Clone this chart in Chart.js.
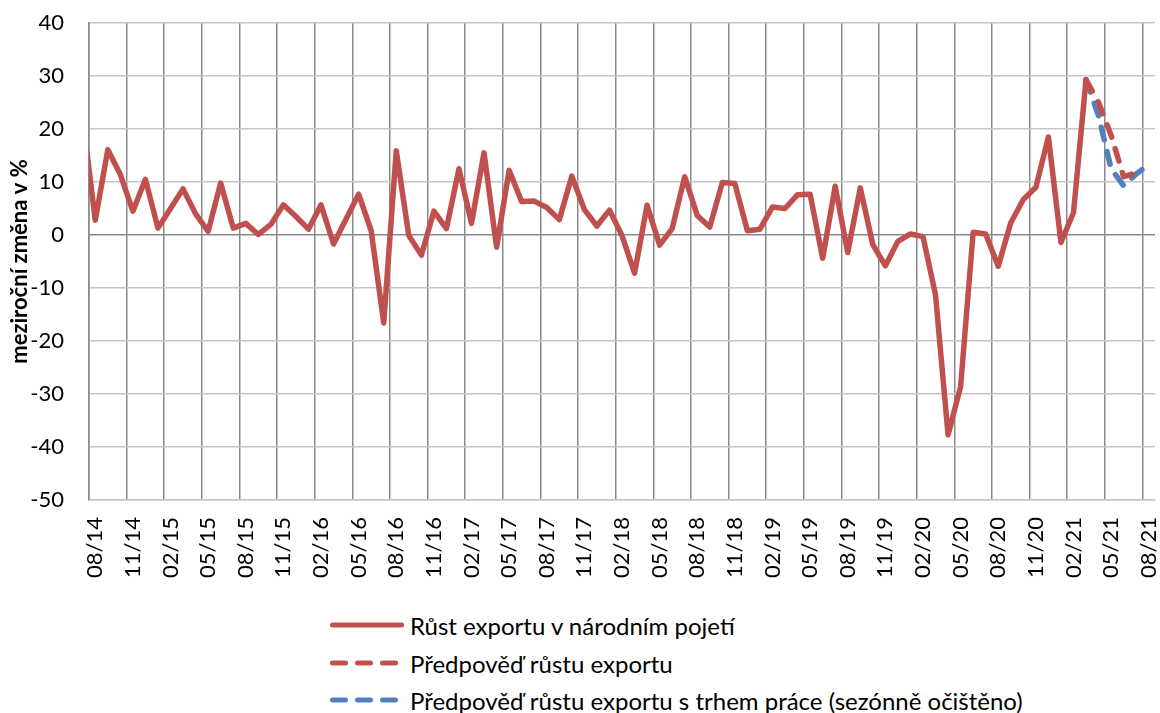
<!DOCTYPE html>
<html lang="cs">
<head>
<meta charset="utf-8">
<title>Růst exportu</title>
<script src="https://cdn.jsdelivr.net/npm/chart.js@4"></script>
<style>
    body { margin: 0; background: #fff; font-family: Lato, "Open Sans", sans-serif; }
    #wrap { position: relative; width: 1160px; height: 713px; }
    #box { position: absolute; left: 0; top: 0; width: 1160px; height: 600px; }
    .leg { position: absolute; left: 330px; height: 30px; display: flex; align-items: center; font-size: 24px; color: #000; white-space: nowrap; }
    .leg svg { margin-right: 6px; }
</style>
</head>
<body>
<div id="wrap">
    <div id="box"><canvas id="exportChart"></canvas></div>
    <div id="legend"></div>
</div>
<script>
// months 07/14 .. 08/21 (07/14 sits just outside the visible range)
const months = [
    "07/14", "08/14", "09/14", "10/14", "11/14", "12/14",
    "01/15", "02/15", "03/15", "04/15", "05/15", "06/15", "07/15", "08/15", "09/15", "10/15", "11/15", "12/15",
    "01/16", "02/16", "03/16", "04/16", "05/16", "06/16", "07/16", "08/16", "09/16", "10/16", "11/16", "12/16",
    "01/17", "02/17", "03/17", "04/17", "05/17", "06/17", "07/17", "08/17", "09/17", "10/17", "11/17", "12/17",
    "01/18", "02/18", "03/18", "04/18", "05/18", "06/18", "07/18", "08/18", "09/18", "10/18", "11/18", "12/18",
    "01/19", "02/19", "03/19", "04/19", "05/19", "06/19", "07/19", "08/19", "09/19", "10/19", "11/19", "12/19",
    "01/20", "02/20", "03/20", "04/20", "05/20", "06/20", "07/20", "08/20", "09/20", "10/20", "11/20", "12/20",
    "01/21", "02/21", "03/21", "04/21", "05/21", "06/21", "07/21", "08/21"
];

// y/y export growth, 07/14 .. 03/21
const exportGrowth = [
    22.0,
    2.8, 16.1, 11.4, 4.5, 10.5,
    1.3, 5.0, 8.7, 4.0, 0.7, 9.8, 1.3, 2.2, 0.1, 2.0, 5.7, 3.5,
    1.1, 5.7, -1.7, 3.0, 7.7, 0.8, -16.6, 15.9, -0.1, -3.8, 4.5, 1.2,
    12.5, 2.2, 15.5, -2.3, 12.2, 6.3, 6.4, 5.2, 2.9, 11.1, 4.8, 1.7,
    4.7, -0.1, -7.2, 5.6, -1.9, 1.2, 11.0, 3.7, 1.5, 9.9, 9.7, 0.8,
    1.1, 5.3, 5.0, 7.6, 7.7, -4.4, 9.2, -3.3, 8.9, -1.8, -5.8, -1.2,
    0.2, -0.3, -11.3, -37.7, -28.6, 0.5, 0.2, -5.9, 2.3, 6.7, 9.0, 18.5,
    -1.4, 4.2, 29.3
];

// forecasts starting at 03/21
const forecastStart = "03/21";
const forecast = [29.3, 25.0, 18.8, 11.0, 11.7];
const forecastLabour = [29.3, 22.5, 12.5, 9.3, 11.5, 13.3];

const yTicks = { min: -50, max: 40, step: 10 };

const RED = "#c0504d";
const BLUE = "#4f81bd";
const FONT = "Lato, 'Open Sans', sans-serif";

function padFrom(start, values) {
    const out = months.map(() => null);
    const i0 = months.indexOf(start);
    values.forEach((v, i) => { out[i0 + i] = v; });
    return out;
}

const seriesDefs = [
    { label: "Růst exportu v národním pojetí", data: exportGrowth, color: RED, dash: [] },
    { label: "Předpověď růstu exportu", data: padFrom(forecastStart, forecast), color: RED, dash: [13, 12] },
    { label: "Předpověď růstu exportu s trhem práce (sezónně očištěno)", data: padFrom(forecastStart, forecastLabour), color: BLUE, dash: [13, 12] }
];

function buildChart() {
    const canvas = document.getElementById("exportChart");
    new Chart(canvas, {
        type: "line",
        data: {
            labels: months,
            datasets: seriesDefs.map((s) => ({
                label: s.label,
                data: s.data,
                borderColor: s.color,
                backgroundColor: s.color,
                borderWidth: 5.5,
                borderDash: s.dash,
                borderCapStyle: "round",
                borderJoinStyle: "round",
                pointRadius: 0,
                tension: 0,
                fill: false,
                clip: { left: 0, right: 0, top: 6, bottom: 6 }
            }))
        },
        options: {
            responsive: true,
            maintainAspectRatio: false,
            animation: false,
            events: [],
            layout: { padding: { top: 23, right: 5, left: 0, bottom: 0 } },
            plugins: { legend: { display: false }, tooltip: { enabled: false } },
            scales: {
                x: {
                    type: "category",
                    min: "08/14",
                    offset: true,
                    grid: {
                        offset: true,
                        drawTicks: false,
                        lineWidth: 1.5,
                        color: (ctx) => (ctx.index % 3 === 0 ? "#898989" : "rgba(0,0,0,0)")
                    },
                    border: { color: "#c6c6c6", width: 1.5 },
                    ticks: {
                        autoSkip: false,
                        minRotation: 90,
                        maxRotation: 90,
                        padding: 17,
                        color: "#000",
                        font: { family: FONT, size: 22 },
                        callback: function (value, index) {
                            return index % 3 === 0 ? this.getLabelForValue(value) : "";
                        }
                    },
                    afterFit: (s) => {
                        s.height = 100;
                        s.paddingLeft = 0;
                        s.paddingRight = 0;
                    }
                },
                y: {
                    min: yTicks.min,
                    max: yTicks.max,
                    grid: {
                        drawTicks: false,
                        lineWidth: 1.5,
                        color: (ctx) => (ctx.tick && ctx.tick.value === 0 ? "#898989" : "#c6c6c6")
                    },
                    border: { color: "#898989", width: 1.5 },
                    ticks: {
                        stepSize: yTicks.step,
                        padding: 25,
                        color: "#000",
                        font: { family: FONT, size: 22 }
                    },
                    title: {
                        display: true,
                        text: "meziroční změna v %",
                        color: "#000",
                        font: { family: FONT, size: 22, weight: "bold" },
                        padding: { top: 7, bottom: 0 }
                    },
                    afterFit: (s) => {
                        s.width = 89;
                        s.paddingTop = 0;
                        s.paddingBottom = 0;
                    }
                }
            }
        }
    });
}

function buildLegend() {
    const box = document.getElementById("legend");
    const rowTops = [610, 648, 685];
    seriesDefs.forEach((s, i) => {
        const row = document.createElement("div");
        row.className = "leg";
        row.style.top = rowTops[i] + "px";
        const dash = s.dash.length ? ` stroke-dasharray="${s.dash.join(" ")}"` : "";
        row.innerHTML =
            `<svg width="74" height="10"><line x1="2.5" y1="5" x2="71.5" y2="5" stroke="${s.color}" stroke-width="5" stroke-linecap="round"${dash}/></svg>` +
            `<span>${s.label}</span>`;
        box.appendChild(row);
    });
}

document.addEventListener("DOMContentLoaded", () => {
    buildChart();
    buildLegend();
});
</script>
</body>
</html>
